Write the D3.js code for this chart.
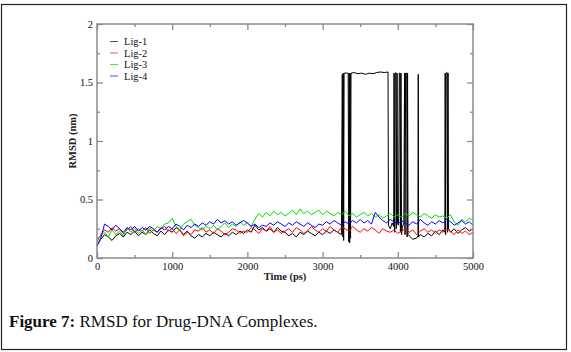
<!DOCTYPE html>
<html>
<head>
<meta charset="utf-8">
<script src="https://cdn.jsdelivr.net/npm/d3@7"></script>
<style>
  body { margin: 0; background: #fff; }
  svg { display: block; }
</style>
</head>
<body>
<div id="chart"></div>
<script>
// === Data ===
const seriesNames = ["Lig-1", "Lig-2", "Lig-3", "Lig-4"];
const seriesColors = ["#000000", "#ff0000", "#00e000", "#0000ff"];

// Lig-2..Lig-4 sampled every 50 ps from 0 to 5000
const timeStep = 50;

// Lig-1 has irregular sampling around the jumps, so it keeps [time, rmsd] pairs
const lig1Points = [
  [0, 0.11], [50, 0.16], [100, 0.2], [150, 0.18], [200, 0.15], [250, 0.19], [300, 0.21], [350, 0.18], [400, 0.22], [450, 0.2],
  [500, 0.23], [550, 0.19], [600, 0.22], [650, 0.2], [700, 0.24], [750, 0.21], [800, 0.19], [850, 0.23], [900, 0.2], [950, 0.24],
  [1000, 0.22], [1050, 0.26], [1100, 0.24], [1150, 0.2], [1200, 0.23], [1250, 0.19], [1300, 0.17], [1350, 0.2], [1400, 0.18], [1450, 0.21],
  [1500, 0.19], [1550, 0.22], [1600, 0.2], [1650, 0.18], [1700, 0.21], [1750, 0.19], [1800, 0.22], [1850, 0.2], [1900, 0.23], [1950, 0.21],
  [2000, 0.24], [2050, 0.22], [2100, 0.28], [2150, 0.24], [2200, 0.26], [2250, 0.23], [2300, 0.25], [2350, 0.22], [2400, 0.26], [2450, 0.23],
  [2500, 0.22], [2550, 0.19], [2600, 0.21], [2650, 0.18], [2700, 0.22], [2750, 0.2], [2800, 0.23], [2850, 0.21], [2900, 0.19], [2950, 0.22],
  [3000, 0.2], [3050, 0.23], [3100, 0.21], [3150, 0.24], [3200, 0.22], [3250, 0.2],
  [3262, 1.57], [3268, 0.18], [3274, 1.58], [3280, 0.15], [3286, 1.58], [3340, 1.58], [3348, 0.14], [3354, 1.58], [3360, 0.13],
  [3366, 1.58], [3372, 0.17], [3378, 1.58], [3420, 1.585], [3470, 1.575], [3520, 1.58], [3570, 1.57], [3620, 1.58], [3670, 1.575],
  [3720, 1.585], [3770, 1.59], [3820, 1.585], [3870, 1.59], [3876, 0.28], [3900, 0.25], [3925, 0.3], [3945, 0.27], [3950, 1.58],
  [3958, 0.22], [3964, 1.58], [3975, 1.585], [3980, 0.25], [3990, 1.58], [3996, 0.3], [4010, 0.28], [4020, 1.58], [4030, 1.58],
  [4035, 0.22], [4042, 1.58], [4050, 0.2], [4060, 0.26], [4080, 0.3], [4090, 1.58], [4096, 0.2], [4104, 1.58], [4118, 1.58],
  [4124, 0.18], [4130, 1.58], [4136, 0.2], [4150, 0.19], [4200, 0.16], [4250, 0.17], [4268, 0.19], [4272, 1.57], [4276, 0.18],
  [4300, 0.2], [4350, 0.18], [4400, 0.21], [4450, 0.19], [4500, 0.23], [4550, 0.2], [4600, 0.24], [4625, 0.22], [4630, 1.58],
  [4636, 0.2], [4642, 1.58], [4656, 1.585], [4662, 0.22], [4668, 1.58], [4674, 0.25], [4700, 0.22], [4750, 0.25], [4800, 0.21],
  [4850, 0.24], [4900, 0.26], [4950, 0.23], [5000, 0.25]
];

const lig2 = [
  0.14, 0.2, 0.24, 0.22, 0.26, 0.23, 0.25, 0.21, 0.24, 0.27,
  0.22, 0.25, 0.23, 0.26, 0.21, 0.24, 0.22, 0.25, 0.27, 0.23,
  0.25, 0.21, 0.24, 0.19, 0.22, 0.2, 0.24, 0.23, 0.26, 0.22,
  0.24, 0.21, 0.25, 0.23, 0.2, 0.22, 0.25, 0.24, 0.21, 0.23,
  0.22, 0.26, 0.24, 0.21, 0.25, 0.23, 0.27, 0.22, 0.24, 0.21,
  0.23, 0.25, 0.22, 0.26, 0.24, 0.21, 0.23, 0.27, 0.24, 0.22,
  0.25, 0.23, 0.27, 0.24, 0.22, 0.26, 0.25, 0.23, 0.27, 0.24,
  0.22, 0.25, 0.23, 0.26, 0.24, 0.21, 0.25, 0.23, 0.22, 0.24,
  0.21, 0.23, 0.25, 0.22, 0.24, 0.2, 0.23, 0.25, 0.22, 0.24,
  0.21, 0.24, 0.22, 0.25, 0.23, 0.2, 0.24, 0.21, 0.23, 0.2,
  0.22
];

const lig3 = [
  0.16, 0.19, 0.22, 0.18, 0.24, 0.2, 0.23, 0.19, 0.26, 0.22,
  0.25, 0.21, 0.24, 0.2, 0.26, 0.23, 0.27, 0.25, 0.29, 0.3,
  0.34, 0.27, 0.24, 0.29, 0.31, 0.33, 0.28, 0.26, 0.24, 0.27,
  0.25, 0.28, 0.24, 0.27, 0.3, 0.26, 0.29, 0.27, 0.31, 0.28,
  0.3, 0.27, 0.33, 0.38, 0.35, 0.39, 0.36, 0.4, 0.37, 0.39,
  0.36, 0.38, 0.41, 0.37, 0.42, 0.38, 0.4, 0.37, 0.39, 0.41,
  0.37, 0.4, 0.38, 0.36, 0.39, 0.37, 0.4, 0.36, 0.38, 0.35,
  0.37, 0.39, 0.36, 0.38, 0.35, 0.37, 0.34, 0.36, 0.38, 0.35,
  0.37, 0.35, 0.38, 0.36, 0.39, 0.37, 0.35, 0.38, 0.36, 0.34,
  0.37, 0.35, 0.36, 0.34, 0.37, 0.31, 0.28, 0.33, 0.31, 0.34,
  0.32
];

const lig4 = [
  0.1, 0.17, 0.29, 0.27, 0.24, 0.28, 0.25, 0.22, 0.26, 0.24,
  0.27, 0.23, 0.26, 0.24, 0.27, 0.25, 0.22, 0.26, 0.24, 0.27,
  0.25, 0.29, 0.27, 0.24, 0.28, 0.26, 0.29, 0.27, 0.3, 0.28,
  0.31, 0.29, 0.33, 0.3, 0.32, 0.29, 0.31, 0.28, 0.3, 0.32,
  0.3, 0.27, 0.29, 0.26, 0.28, 0.27, 0.3, 0.28, 0.31, 0.29,
  0.27, 0.3, 0.28, 0.31, 0.29, 0.27, 0.3, 0.28, 0.26, 0.29,
  0.28, 0.31, 0.29, 0.32, 0.3, 0.28, 0.31, 0.29, 0.32, 0.3,
  0.33, 0.3, 0.32, 0.29, 0.39, 0.35, 0.32, 0.3, 0.33, 0.31,
  0.29, 0.32, 0.3, 0.28, 0.31, 0.29, 0.33, 0.3, 0.28, 0.31,
  0.29, 0.32, 0.3, 0.33, 0.31, 0.28, 0.3, 0.32, 0.29, 0.31,
  0.28
];

const xTicks = [0, 1000, 2000, 3000, 4000, 5000];
const yTicks = [0, 0.5, 1, 1.5, 2];

// === Layout ===
const width = 571;
const height = 352;
const plot = { left: 97, top: 24, right: 473, bottom: 258 };
const tickFont = "'Liberation Serif', 'Times New Roman', serif";

const svg = d3.select("#chart")
  .append("svg")
  .attr("width", width)
  .attr("height", height);

// outer frame
svg.append("rect")
  .attr("x", 1.5).attr("y", 4.5)
  .attr("width", 565).attr("height", 345)
  .attr("fill", "none")
  .attr("stroke", "#222")
  .attr("stroke-width", 1.2);

const x = d3.scaleLinear().domain([0, 5000]).range([plot.left, plot.right]);
const y = d3.scaleLinear().domain([0, 2]).range([plot.bottom, plot.top]);

// === Series ===
const toPairs = (arr) => arr.map((v, i) => [i * timeStep, v]);
const series = [lig1Points, toPairs(lig2), toPairs(lig3), toPairs(lig4)];

const line = d3.line().x((d) => x(d[0])).y((d) => y(d[1]));

svg.append("g")
  .selectAll("path")
  .data(series)
  .enter()
  .append("path")
  .attr("d", line)
  .attr("fill", "none")
  .attr("stroke", (d, i) => seriesColors[i])
  .attr("stroke-width", 1)
  .attr("stroke-linejoin", "round");

// === Axes (ticks pointing inward, on all four sides) ===
const axisColor = "#8a8a8a";
const minorX = d3.range(500, 5000, 1000);
const minorY = d3.range(0.25, 2, 0.5);

function styleAxis(g) {
  g.select(".domain").remove();
  g.selectAll(".tick line").attr("stroke", axisColor).attr("stroke-width", 1.3);
  g.selectAll("text").attr("font-family", tickFont).attr("font-size", "10.5px").attr("fill", "#111");
}

svg.append("g")
  .attr("transform", `translate(0,${plot.bottom})`)
  .call(d3.axisBottom(x).tickValues(xTicks).tickSizeInner(-6).tickSizeOuter(0).tickPadding(5).tickFormat(d3.format("d")))
  .call(styleAxis);
svg.append("g")
  .attr("transform", `translate(0,${plot.bottom})`)
  .call(d3.axisBottom(x).tickValues(minorX).tickSizeInner(-3).tickSizeOuter(0).tickFormat(""))
  .call(styleAxis);
svg.append("g")
  .attr("transform", `translate(0,${plot.top})`)
  .call(d3.axisTop(x).tickValues(xTicks).tickSizeInner(-6).tickSizeOuter(0).tickFormat(""))
  .call(styleAxis);
svg.append("g")
  .attr("transform", `translate(0,${plot.top})`)
  .call(d3.axisTop(x).tickValues(minorX).tickSizeInner(-3).tickSizeOuter(0).tickFormat(""))
  .call(styleAxis);

svg.append("g")
  .attr("transform", `translate(${plot.left},0)`)
  .call(d3.axisLeft(y).tickValues(yTicks).tickSizeInner(-6).tickSizeOuter(0).tickPadding(4).tickFormat(d3.format("")))
  .call(styleAxis);
svg.append("g")
  .attr("transform", `translate(${plot.left},0)`)
  .call(d3.axisLeft(y).tickValues(minorY).tickSizeInner(-3).tickSizeOuter(0).tickFormat(""))
  .call(styleAxis);
svg.append("g")
  .attr("transform", `translate(${plot.right},0)`)
  .call(d3.axisRight(y).tickValues(yTicks).tickSizeInner(-6).tickSizeOuter(0).tickFormat(""))
  .call(styleAxis);
svg.append("g")
  .attr("transform", `translate(${plot.right},0)`)
  .call(d3.axisRight(y).tickValues(minorY).tickSizeInner(-3).tickSizeOuter(0).tickFormat(""))
  .call(styleAxis);

// plot frame
svg.append("rect")
  .attr("x", plot.left).attr("y", plot.top)
  .attr("width", plot.right - plot.left).attr("height", plot.bottom - plot.top)
  .attr("fill", "none")
  .attr("stroke", axisColor)
  .attr("stroke-width", 1.5);

// === Axis titles ===
svg.append("text")
  .attr("x", (plot.left + plot.right) / 2)
  .attr("y", 280)
  .attr("text-anchor", "middle")
  .attr("font-family", tickFont)
  .attr("font-size", "10.5px")
  .attr("font-weight", "bold")
  .attr("fill", "#222")
  .text("Time (ps)");

svg.append("text")
  .attr("transform", `translate(76,${(plot.top + plot.bottom) / 2}) rotate(-90)`)
  .attr("text-anchor", "middle")
  .attr("font-family", tickFont)
  .attr("font-size", "10.5px")
  .attr("font-weight", "bold")
  .attr("fill", "#222")
  .text("RMSD (nm)");

// === Legend ===
const legend = svg.append("g").attr("transform", "translate(110,41.5)");
seriesNames.forEach((name, i) => {
  const row = legend.append("g").attr("transform", `translate(0,${i * 11.5})`);
  row.append("line")
    .attr("x1", 0).attr("x2", 8)
    .attr("stroke", seriesColors[i])
    .attr("stroke-opacity", 0.7)
    .attr("stroke-width", 1);
  row.append("text")
    .attr("x", 14).attr("y", 3.5)
    .attr("font-family", tickFont)
    .attr("font-size", "10.5px")
    .attr("fill", "#111")
    .text(name);
});

// === Caption ===
const caption = svg.append("text")
  .attr("x", 9)
  .attr("y", 327)
  .attr("font-family", tickFont)
  .attr("font-size", "17px")
  .attr("fill", "#111");
caption.append("tspan").attr("font-weight", "bold").text("Figure 7: ");
caption.append("tspan").text("RMSD for Drug-DNA Complexes.");
</script>
</body>
</html>
